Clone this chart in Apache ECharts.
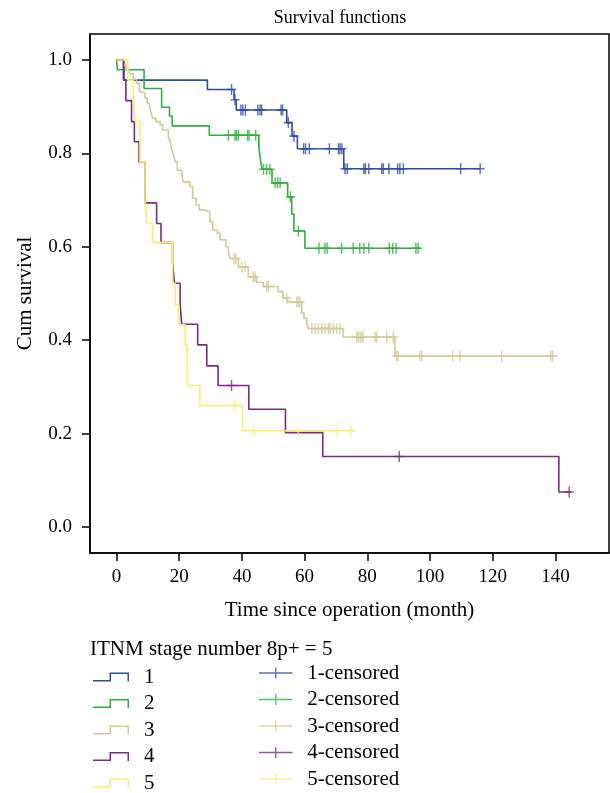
<!DOCTYPE html>
<html>
<head>
<meta charset="utf-8">
<script src="https://cdn.jsdelivr.net/npm/echarts@6/dist/echarts.min.js"></script>
<style>
  html, body { margin: 0; padding: 0; background: #fff; }
  #chart { width: 610px; height: 793px; }
</style>
</head>
<body>
<div id="chart"></div>
<script>
// step curves: time of each drop (months) and the survival level after it
var times1 = [0, 2.4, 29, 37.5, 38.2, 54.3, 56, 57.7, 72.5, 116];
var surv1  = [1.0, 0.957, 0.937, 0.915, 0.893, 0.866, 0.837, 0.81, 0.767, 0.767];
var cens1  = [36.7, 37.8, 39.7, 40.3, 41.1, 45.1, 45.8, 46.3, 52.5, 53.0, 54.8, 56.6,
              59.7, 60.3, 61.5, 67.9, 70.8, 71.3, 71.9, 72.9, 73.6, 78.9, 79.4, 80.5,
              84.6, 85.1, 86.9, 89.7, 90.4, 91.5, 109.8, 116];

var times2 = [0, 0.3, 8.8, 14.4, 16.9, 17.8, 29.6, 45.4, 45.8, 46.4, 49.6, 54.6, 55.9, 56.6, 60.1, 96.8];
var surv2  = [1.0, 0.979, 0.939, 0.899, 0.88, 0.859, 0.839, 0.814, 0.792, 0.766, 0.737, 0.707, 0.67, 0.634, 0.597, 0.597];
var cens2  = [35.7, 37.8, 38.3, 38.9, 41.8, 42.3, 44.4, 46.9, 47.9, 48.9, 50.6, 51.4, 52.2,
              55.5, 58.0, 64.6, 66.5, 67.2, 71.8, 75.5, 77.6, 78.9, 80.5, 87.0, 88.1, 89.2, 95.5, 96.2];

var times3 = [0, 2.2, 3.0, 4.1, 5.4, 6.4, 7.3, 8.0, 9.1, 9.8, 10.5, 11.0, 11.5, 12.6, 13.9, 14.7,
              16.5, 17.1, 17.6, 18.1, 18.7, 19.4, 20.8, 21.3, 23.4, 24.3, 25.4, 26.4, 28.2, 29.8,
              30.7, 32.2, 33.0, 34.9, 35.7, 36.2, 38.9, 42.0, 44.7, 46.8, 51.6, 53.1, 54.6, 59.1,
              59.8, 60.7, 61.2, 72.3, 88.8, 139.5];
var surv3  = [1.0, 0.989, 0.979, 0.971, 0.959, 0.950, 0.932, 0.929, 0.918, 0.907, 0.900, 0.889,
              0.875, 0.868, 0.861, 0.850, 0.837, 0.825, 0.807, 0.800, 0.782, 0.764, 0.757, 0.739,
              0.729, 0.704, 0.690, 0.679, 0.675, 0.654, 0.636, 0.629, 0.615, 0.600, 0.589, 0.575,
              0.557, 0.536, 0.524, 0.515, 0.504, 0.490, 0.482, 0.458, 0.447, 0.439, 0.425, 0.407,
              0.366, 0.366];
var cens3  = [37.5, 38.1, 40.0, 41.0, 43.6, 44.2, 47.9, 48.4, 54.3, 57.5, 58.0, 58.5, 62.3, 63.3,
              64.4, 65.5, 66.5, 67.6, 68.1, 69.2, 70.2, 71.3, 76.6, 77.1, 77.7, 78.2, 78.7, 82.5,
              83.0, 86.2, 88.3, 89.4, 89.9, 96.8, 97.4, 107.2, 109.6, 122.9, 138.5, 139.1];

var times4 = [0, 2.2, 3.0, 4.8, 5.7, 7.2, 9.1, 12.8, 14.2, 17.9, 18.5, 20.3, 20.8, 25.9, 28.8,
              32.4, 42.2, 53.9, 65.8, 141.1, 145];
var surv4  = [1.0, 0.957, 0.913, 0.868, 0.825, 0.782, 0.694, 0.65, 0.609, 0.565, 0.522, 0.478,
              0.434, 0.39, 0.345, 0.303, 0.252, 0.202, 0.151, 0.075, 0.075];
var cens4  = [36.7, 90.2, 144.4];

var times5 = [0, 3.6, 5.4, 5.9, 7.5, 9.1, 9.6, 11.5, 17.9, 18.7, 19.9, 21.9, 22.6, 26.6, 40.2, 76];
var surv5  = [1.0, 0.957, 0.914, 0.869, 0.782, 0.694, 0.65, 0.609, 0.522, 0.475, 0.433, 0.39,
              0.303, 0.26, 0.206, 0.206];
var cens5  = [37.8, 44, 58, 70.4, 74.8];

var groupNames = ['1', '2', '3', '4', '5'];
var colors = ['#2d4ea3', '#33ad3f', '#cfcb98', '#7b2c82', '#f4ef72'];
var xTicks = [0, 20, 40, 60, 80, 100, 120, 140];
var yTicks = [0, 0.2, 0.4, 0.6, 0.8, 1.0];

var FONT = '"Liberation Serif", "DejaVu Serif", serif';

function levelAt(times, surv, t) {
    var v = surv[0];
    for (var i = 0; i < times.length; i++) {
        if (times[i] <= t) v = surv[i];
    }
    return v;
}

var curves = [[times1, surv1, cens1], [times2, surv2, cens2], [times3, surv3, cens3],
              [times4, surv4, cens4], [times5, surv5, cens5]];

var stepIcon = 'path://M0,7.5h18v1.5h-18z M16.5,0h1.5v9h-1.5z M16.5,0h19.5v1.5h-19.5z M34.5,0h1.5v9h-1.5z';
var censIcon = 'path://M0,5h35v1.5h-35z M16.8,0h1.4v11.5h-1.4z';
var plusMark = 'path://M4.2,0h1.6v11h-1.6z M0,4.7h10v1.6h-10z';

var series = [];
curves.forEach(function (c, i) {
    series.push({
        name: groupNames[i],
        type: 'line',
        step: 'end',
        symbol: 'none',
        color: colors[i],
        lineStyle: { width: 1.6, color: colors[i] },
        data: c[0].map(function (t, k) { return [t, c[1][k]]; }),
        z: 2
    });
});
curves.forEach(function (c, i) {
    series.push({
        name: groupNames[i] + '-censored',
        type: 'scatter',
        symbol: plusMark,
        symbolSize: [9, 11],
        color: colors[i],
        itemStyle: { color: colors[i] },
        data: c[2].map(function (t) { return [t, levelAt(c[0], c[1], t)]; }),
        z: 3
    });
});

var myChart = echarts.init(document.getElementById('chart'));

var option = {
    animation: false,
    backgroundColor: '#fff',
    title: [{
        text: 'Survival functions',
        left: 340,
        top: 9,
        textAlign: 'center',
        padding: 0,
        textStyle: { fontFamily: FONT, fontSize: 18, fontWeight: 'normal', color: '#000' }
    }, {
        text: 'ITNM stage number 8p+ = 5',
        left: 90,
        top: 639,
        padding: 0,
        textStyle: { fontFamily: FONT, fontSize: 21, fontWeight: 'normal', color: '#000' }
    }],
    legend: [{
        data: groupNames,
        orient: 'vertical',
        left: 93,
        top: 666,
        height: 200,
        padding: 0,
        itemWidth: 36,
        itemHeight: 9,
        itemGap: 4.5,
        icon: stepIcon,
        selectedMode: false,
        itemStyle: { borderWidth: 0 },
        textStyle: { fontFamily: FONT, fontSize: 21, color: '#000', lineHeight: 22, padding: [0, 0, 0, 10] }
    }, {
        data: groupNames.map(function (n) { return n + '-censored'; }),
        orient: 'vertical',
        left: 259,
        top: 662,
        height: 200,
        padding: 0,
        itemWidth: 35,
        itemHeight: 11,
        itemGap: 4.5,
        icon: censIcon,
        selectedMode: false,
        itemStyle: { borderWidth: 0 },
        textStyle: { fontFamily: FONT, fontSize: 21, color: '#000', lineHeight: 22, padding: [0, 0, 0, 9] }
    }],
    grid: {
        left: 90,
        top: 34,
        right: 1,
        bottom: 240,
        show: true,
        borderColor: '#000',
        borderWidth: 1.5,
        containLabel: false
    },
    xAxis: {
        type: 'value',
        min: -8.45,
        max: 157.1,
        name: 'Time since operation (month)',
        nameLocation: 'middle',
        nameGap: 47,
        nameTextStyle: { fontFamily: FONT, fontSize: 21, color: '#000' },
        axisLine: { show: true, onZero: false, lineStyle: { color: '#000', width: 1.5 } },
        axisTick: { show: true, customValues: xTicks, length: 8, lineStyle: { color: '#000', width: 1.5 } },
        axisLabel: { customValues: xTicks, margin: 15, color: '#000', fontFamily: FONT, fontSize: 19 },
        splitLine: { show: false }
    },
    yAxis: {
        type: 'value',
        min: -0.0557,
        max: 1.0557,
        name: 'Cum survival',
        nameLocation: 'middle',
        nameGap: 54,
        nameTextStyle: { fontFamily: FONT, fontSize: 21, color: '#000' },
        axisLine: { show: true, onZero: false, lineStyle: { color: '#000', width: 1.5 } },
        axisTick: { show: true, customValues: yTicks, length: 8, lineStyle: { color: '#000', width: 1.5 } },
        axisLabel: {
            customValues: yTicks, margin: 18, color: '#000', fontFamily: FONT, fontSize: 19,
            formatter: function (v) { return v.toFixed(1); }
        },
        splitLine: { show: false }
    },
    series: series
};

myChart.setOption(option);
</script>
</body>
</html>
